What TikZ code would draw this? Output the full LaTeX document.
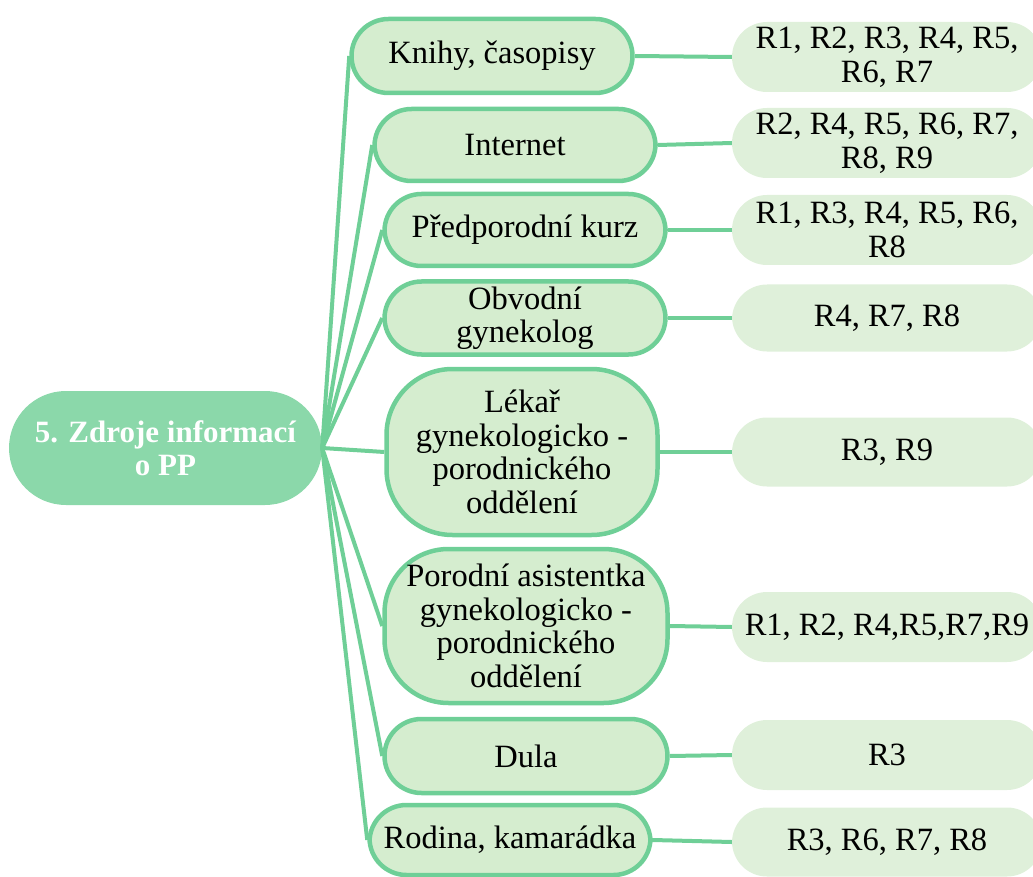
\documentclass[tikz,border=0pt]{standalone}
\usepackage{fontspec}
\setmainfont{Liberation Serif}
\definecolor{rootfill}{RGB}{139,216,170}
\definecolor{linegreen}{RGB}{111,207,151}
\definecolor{midfill}{RGB}{213,237,207}
\definecolor{leaffill}{RGB}{223,240,218}
\begin{document}
\begin{tikzpicture}[x=1pt,y=-1pt,
  txt/.style={font=\fontsize{32.5}{33.5}\selectfont, align=center, inner sep=0pt},
  rootbox/.style={txt, font=\fontsize{31}{33}\selectfont\bfseries, text=white, fill=rootfill, rounded corners=57pt, minimum width=313pt, minimum height=114pt},
  midbox/.style={txt, fill=midfill, draw=linegreen, line width=4.5pt, rounded corners=37pt, minimum width=281pt, minimum height=73pt},
  leafbox/.style={txt, fill=leaffill, rounded corners=35pt, minimum width=310pt, minimum height=70pt},
  conn/.style={draw=linegreen, line width=4pt}]
\useasboundingbox (0,0) rectangle (1033,877);
\clip (0,0) rectangle (1033,877);

\node[rootbox] (root) at (165.5,448) {5. Zdroje informací\\o PP};

\node[midbox, minimum height=74pt] (m1) at (492,56) {Knihy, časopisy};
\node[midbox, minimum height=72pt] (m2) at (515,145) {Internet};
\node[midbox, minimum height=72pt] (m3) at (525,230) {Předporodní kurz};
\node[midbox] (m4) at (525,318) {Obvodní\\gynekolog};
\node[midbox, minimum width=271pt, minimum height=166pt, rounded corners=66pt] (m5) at (522,452) {Lékař\\gynekologicko -\\porodnického\\oddělení};
\node[midbox, minimum width=283pt, minimum height=154pt, rounded corners=64pt] (m6) at (526,626) {Porodní asistentka\\gynekologicko -\\porodnického\\oddělení};
\node[midbox, minimum width=283pt, minimum height=74pt] (m7) at (526,756) {Dula};
\node[midbox, minimum height=70pt] (m8) at (510,840) {Rodina, kamarádka};

\node[leafbox] (l1) at (887,57) {R1, R2, R3, R4, R5,\\R6, R7};
\node[leafbox] (l2) at (887,143) {R2, R4, R5, R6, R7,\\R8, R9};
\node[leafbox] (l3) at (887,230) {R1, R3, R4, R5, R6,\\R8};
\node[leafbox, minimum height=67pt] (l4) at (887,318) {R4, R7, R8};
\node[leafbox, minimum height=69pt] (l5) at (887,452) {R3, R9};
\node[leafbox] (l6) at (887,627) {R1, R2, R4,R5,R7,R9};
\node[leafbox] (l7) at (887,755) {R3};
\node[leafbox, minimum height=69pt] (l8) at (887,842) {R3, R6, R7, R8};

\foreach \i in {1,...,8} {
  \draw[conn] (root.east) -- (m\i.west);
  \draw[conn] (m\i.east) -- (l\i.west);
}
\end{tikzpicture}
\end{document}
